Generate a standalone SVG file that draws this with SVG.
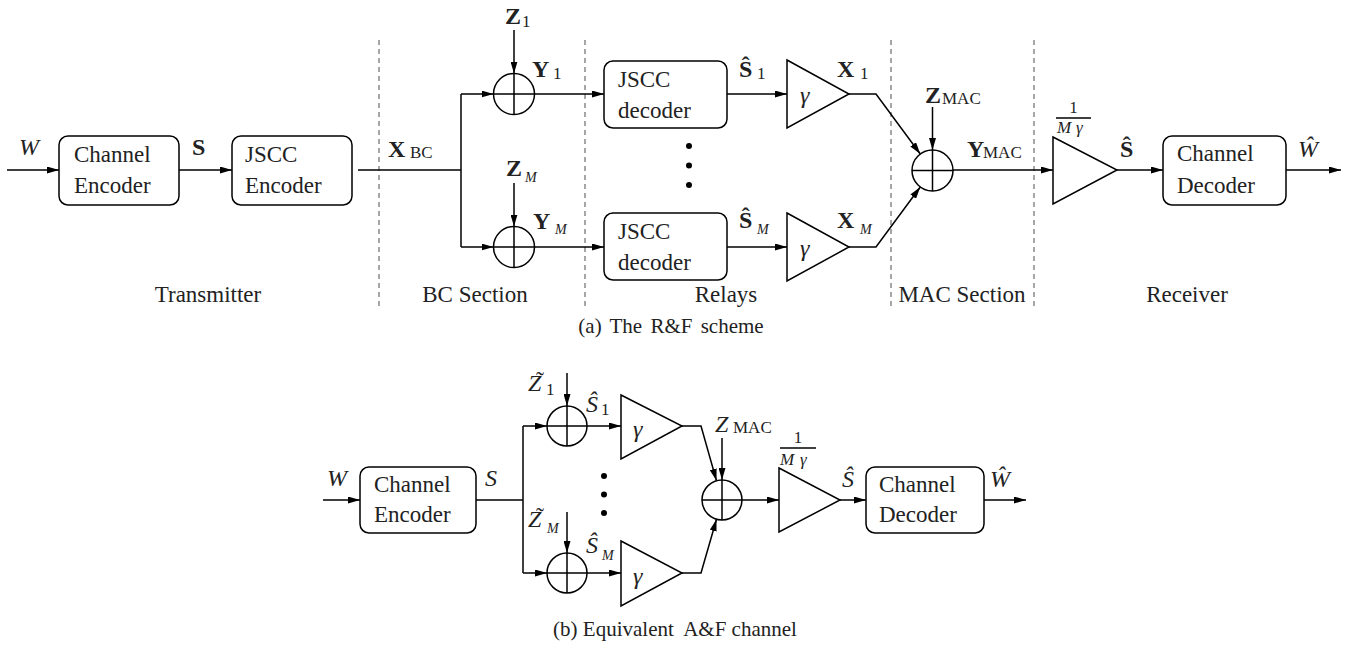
<svg xmlns="http://www.w3.org/2000/svg" width="1354" height="648" viewBox="0 0 1354 648" font-family="Liberation Serif, Times New Roman, Tinos, DejaVu Serif, serif">
<defs>
<marker id="ah" markerUnits="userSpaceOnUse" markerWidth="12" markerHeight="7" refX="12" refY="3.5" orient="auto">
<path d="M0,0 L12,3.5 L0,7 z" fill="#000"/>
</marker>
</defs>
<rect width="1354" height="648" fill="#fff"/>

<g id="separators" stroke="#777" stroke-width="1.3" stroke-dasharray="5 4">
<line x1="379" y1="40" x2="379" y2="306"/>
<line x1="585" y1="40" x2="585" y2="306"/>
<line x1="891" y1="40" x2="891" y2="306"/>
<line x1="1034" y1="40" x2="1034" y2="306"/>
</g>

<g id="connectors" stroke="#000" stroke-width="1.5" fill="none">
<g marker-end="url(#ah)">
<line x1="7" y1="170" x2="59" y2="170"/>
<line x1="179" y1="170" x2="232" y2="170"/>
<line x1="461" y1="94" x2="493.5" y2="94"/>
<line x1="461" y1="247" x2="493.5" y2="247"/>
<line x1="514" y1="30" x2="514" y2="73.5"/>
<line x1="514" y1="183" x2="514" y2="226.5"/>
<line x1="534.5" y1="94" x2="604" y2="94"/>
<line x1="534.5" y1="247" x2="604" y2="247"/>
<line x1="727" y1="94" x2="787" y2="94"/>
<line x1="727" y1="247" x2="787" y2="247"/>
<polyline points="849,94 876,94 920.3,154"/>
<polyline points="849,247 876,247 920.3,187"/>
<line x1="932.5" y1="107" x2="932.5" y2="150"/>
<line x1="953" y1="170" x2="1053" y2="170"/>
<line x1="1117" y1="170" x2="1163" y2="170"/>
<line x1="1286" y1="170" x2="1341" y2="170"/>
<line x1="323" y1="500" x2="360" y2="500"/>
<line x1="523" y1="426" x2="547" y2="426"/>
<line x1="523" y1="573" x2="547" y2="573"/>
<line x1="567" y1="373" x2="567" y2="406"/>
<line x1="567" y1="512" x2="567" y2="553"/>
<line x1="587" y1="426" x2="621" y2="426"/>
<line x1="587" y1="573" x2="621" y2="573"/>
<polyline points="682,426 701,426 716.5,480.8"/>
<polyline points="682,573 701,573 716.5,519.2"/>
<line x1="722" y1="438" x2="722" y2="480"/>
<line x1="742" y1="500" x2="779" y2="500"/>
<line x1="840" y1="500" x2="866" y2="500"/>
<line x1="984" y1="500" x2="1026" y2="500"/>
</g>
<polyline points="358,170 461,170"/>
<polyline points="461,94 461,247"/>
<polyline points="476,500 523,500"/>
<polyline points="523,426 523,573"/>
</g>

<g id="shapes" stroke="#000" stroke-width="1.5" fill="#fff">
<g id="channel-encoder-a"><rect x="59" y="136" width="120" height="69" rx="9"/></g>
<g id="jscc-encoder"><rect x="232" y="136" width="120" height="69" rx="9"/></g>
<g id="sum-1"><circle cx="514" cy="94" r="20.5"/><path d="M493.5,94 H534.5 M514,73.5 V114.5" fill="none"/></g>
<g id="sum-M"><circle cx="514" cy="247" r="20.5"/><path d="M493.5,247 H534.5 M514,226.5 V267.5" fill="none"/></g>
<g id="jscc-decoder-1"><rect x="604" y="61" width="123" height="67" rx="9"/></g>
<g id="jscc-decoder-M"><rect x="604" y="213" width="123" height="67" rx="9"/></g>
<g id="amp-1"><polygon points="787,60 849,94 787,128"/></g>
<g id="amp-M"><polygon points="787,213 849,247 787,281"/></g>
<g id="sum-mac"><circle cx="932.5" cy="170.5" r="20.5"/><path d="M912,170.5 H953 M932.5,150 V191" fill="none"/></g>
<g id="amp-rx"><polygon points="1053,137 1117,170 1053,204"/><line x1="1056" y1="118" x2="1091" y2="118" stroke-width="1.6"/></g>
<g id="channel-decoder-a"><rect x="1163" y="136" width="123" height="69" rx="9"/></g>
<g id="channel-encoder-b"><rect x="360" y="467" width="116" height="66" rx="9"/></g>
<g id="sum-1b"><circle cx="567" cy="426" r="20"/><path d="M547,426 H587 M567,406 V446" fill="none"/></g>
<g id="sum-Mb"><circle cx="567" cy="573" r="20"/><path d="M547,573 H587 M567,553 V593" fill="none"/></g>
<g id="amp-1b"><polygon points="621,395 682,426 621,459"/></g>
<g id="amp-Mb"><polygon points="621,541 682,573 621,606"/></g>
<g id="sum-mac-b"><circle cx="722" cy="500" r="20"/><path d="M702,500 H742 M722,480 V520" fill="none"/></g>
<g id="amp-rx-b"><polygon points="779,468 840,500 779,532"/><line x1="780" y1="448" x2="816" y2="448" stroke-width="1.6"/></g>
<g id="channel-decoder-b"><rect x="866" y="467" width="118" height="66" rx="9"/></g>
</g>

<g id="dots" fill="#000">
<circle cx="689" cy="146" r="3"/>
<circle cx="689" cy="165.5" r="3"/>
<circle cx="689" cy="185" r="3"/>
<circle cx="604" cy="476" r="3"/>
<circle cx="604" cy="494.5" r="3"/>
<circle cx="604" cy="513" r="3"/>
</g>

<g id="box-texts" fill="#222" font-family="Liberation Serif, Times New Roman, Tinos, DejaVu Serif, serif" font-size="23">
<text x="74" y="162">Channel</text>
<text x="74" y="193">Encoder</text>
<text x="245" y="162">JSCC</text>
<text x="245" y="193">Encoder</text>
<text x="618" y="87">JSCC</text>
<text x="618" y="118">decoder</text>
<text x="618" y="239">JSCC</text>
<text x="618" y="270">decoder</text>
<text x="1177" y="161">Channel</text>
<text x="1177" y="193">Decoder</text>
<text x="374" y="492">Channel</text>
<text x="374" y="522">Encoder</text>
<text x="879" y="492">Channel</text>
<text x="879" y="522">Decoder</text>
<text x="208" y="302" text-anchor="middle">Transmitter</text>
<text x="475" y="302" text-anchor="middle">BC Section</text>
<text x="726" y="302" text-anchor="middle">Relays</text>
<text x="962" y="302" text-anchor="middle">MAC Section</text>
<text x="1187" y="302" text-anchor="middle">Receiver</text>
<text font-size="21" x="671" y="333" text-anchor="middle" word-spacing="3">(a) The R&amp;F scheme</text>
<text font-size="21" x="675" y="636" text-anchor="middle">(b) Equivalent&#160; A&amp;F channel</text>
</g>

<g id="math-italic" fill="#222" font-family="Liberation Serif, Times New Roman, Tinos, DejaVu Serif, serif" font-size="24" font-style="italic">
<text x="800" y="103">γ</text>
<text x="800" y="256">γ</text>
<text x="633" y="437">γ</text>
<text x="633" y="584">γ</text>
<text x="19" y="155">W</text>
<text x="1298" y="157">Ŵ</text>
<text x="327" y="486">W</text>
<text x="485" y="486">S</text>
<text x="528" y="391">Z</text>
<text x="528" y="527">Z</text>
<text x="586" y="412">Ŝ</text>
<text x="586" y="553">Ŝ</text>
<text x="715" y="432">Z</text>
<text x="842" y="487">Ŝ</text>
<text x="990" y="487">Ŵ</text>
<text font-size="17" x="1057" y="133">M</text>
<text font-size="17" x="1076" y="133">γ</text>
<text font-size="17" x="780" y="465">M</text>
<text font-size="17" x="800" y="465">γ</text>
</g>

<g id="tildes" fill="#222" font-family="Liberation Serif, Times New Roman, Tinos, DejaVu Serif, serif" font-size="24">
<text x="540" y="388" text-anchor="middle">˜</text>
<text x="540" y="524" text-anchor="middle">˜</text>
</g>

<g id="math-bold" fill="#222" font-family="Liberation Serif, Times New Roman, Tinos, DejaVu Serif, serif" font-size="24" font-weight="bold">
<text x="192" y="155">S</text>
<text x="388" y="157">X</text>
<text x="505" y="24">Z</text>
<text x="532" y="77">Y</text>
<text x="506" y="176">Z</text>
<text x="533" y="229">Y</text>
<text x="739" y="77">Ŝ</text>
<text x="739" y="228">Ŝ</text>
<text x="837" y="77">X</text>
<text x="837" y="228">X</text>
<text x="925" y="103">Z</text>
<text x="967" y="157">Y</text>
<text x="1120" y="157">Ŝ</text>
</g>

<g id="subscripts" fill="#222" font-family="Liberation Serif, Times New Roman, Tinos, DejaVu Serif, serif" font-size="17">
<text x="410" y="158">BC</text>
<text x="522" y="27">1</text>
<text x="553" y="79">1</text>
<text x="757" y="79">1</text>
<text x="860" y="79">1</text>
<text x="942" y="104">MAC</text>
<text x="983" y="158">MAC</text>
<text x="1073.5" y="113" text-anchor="middle">1</text>
<text x="546" y="395">1</text>
<text x="601" y="415">1</text>
<text x="733" y="433">MAC</text>
<text x="798" y="443" text-anchor="middle">1</text>
</g>

<g id="subscripts-italic" fill="#222" font-family="Liberation Serif, Times New Roman, Tinos, DejaVu Serif, serif" font-size="14" font-style="italic">
<text x="525" y="182">M</text>
<text x="555" y="234">M</text>
<text x="757" y="234">M</text>
<text x="860" y="234">M</text>
<text x="547" y="533">M</text>
<text x="602" y="560">M</text>
</g>
</svg>
